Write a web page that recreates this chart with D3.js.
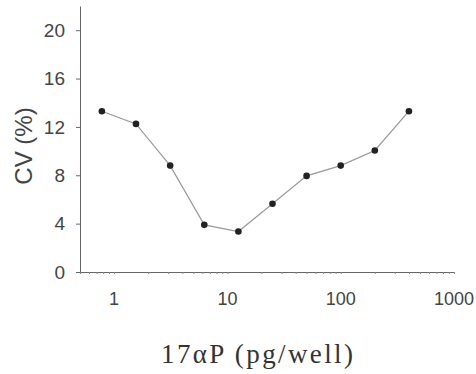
<!DOCTYPE html>
<html lang="en">
<head>
    <meta charset="utf-8">
    <title>CV</title>
    <script src="https://d3js.org/d3.v7.min.js" charset="utf-8"></script>
    <style>
        body { margin: 0; background: #fff; }
    </style>
</head>
<body>

    <script>

    var doses = [0.78, 1.56, 3.125, 6.25, 12.5, 25, 50, 100, 200, 400]
    var cv = [13.3, 12.25, 8.8, 3.9, 3.35, 5.65, 7.95, 8.8, 10.05, 13.3]
    var yTicks = [0, 4, 8, 12, 16, 20]
    var xTicks = [1, 10, 100, 1000]

    var w = 476
    var h = 374

    var svg = d3.select("body").append("svg").attr("width", w).attr("height", h)

    var x = d3.scaleLog().domain([0.5, 1000]).range([80, 454])
    var y = d3.scaleLinear().domain([0, 22]).range([272, 6])

    // x axis with minor ticks
    var minor = []
    for (var p = -1; p < 3; p++) {
        for (var k = 1; k < 10; k++) {
            var v = k * Math.pow(10, p)
            if (v >= 0.5 && v <= 1000) minor.push(v)
        }
    }
    minor.push(1000)

    var xAxis = svg.append("g").attr("transform", "translate(0,272)")
        .call(d3.axisBottom(x).tickValues(minor).tickSize(2).tickFormat(""))
    xAxis.select(".domain").attr("stroke", "#666")
    xAxis.selectAll(".tick line").attr("stroke", "#888")

    svg.selectAll(".xlab").data(xTicks).enter().append("text")
        .attr("x", function (d) { return x(d) })
        .attr("y", 305)
        .attr("text-anchor", "middle")
        .attr("font-family", "Liberation Sans, Arial, sans-serif")
        .attr("font-size", 18)
        .attr("fill", "#444")
        .text(function (d) { return d })

    var yAxis = svg.append("g").attr("transform", "translate(80,0)")
        .call(d3.axisLeft(y).tickValues(yTicks).tickSize(4).tickPadding(11).tickSizeOuter(0))
    yAxis.select(".domain").attr("stroke", "#666")
    yAxis.selectAll(".tick line").attr("stroke", "#666")
    yAxis.selectAll(".tick text")
        .attr("font-family", "Liberation Sans, Arial, sans-serif")
        .attr("font-size", 19)
        .attr("fill", "#444")

    var line = d3.line()
        .x(function (d, i) { return x(doses[i]) })
        .y(function (d) { return y(d) })

    svg.append("path").datum(cv).attr("d", line)
        .attr("fill", "none").attr("stroke", "#999").attr("stroke-width", 1.2)

    svg.selectAll("circle").data(cv).enter().append("circle")
        .attr("cx", function (d, i) { return x(doses[i]) })
        .attr("cy", function (d) { return y(d) })
        .attr("r", 3.3)
        .attr("fill", "#222")

    svg.append("text")
        .attr("transform", "translate(32,146) rotate(-90)")
        .attr("text-anchor", "middle")
        .attr("font-family", "Liberation Sans, Arial, sans-serif")
        .attr("font-size", 24)
        .attr("fill", "#444")
        .text("CV (%)")

    svg.append("text")
        .attr("x", 257)
        .attr("y", 363)
        .attr("text-anchor", "middle")
        .attr("font-family", "Liberation Serif, Times New Roman, serif")
        .attr("font-size", 27)
        .attr("textLength", 192)
        .attr("lengthAdjust", "spacing")
        .attr("fill", "#333")
        .text("17αP (pg/well)")

    </script>

</body>
</html>
